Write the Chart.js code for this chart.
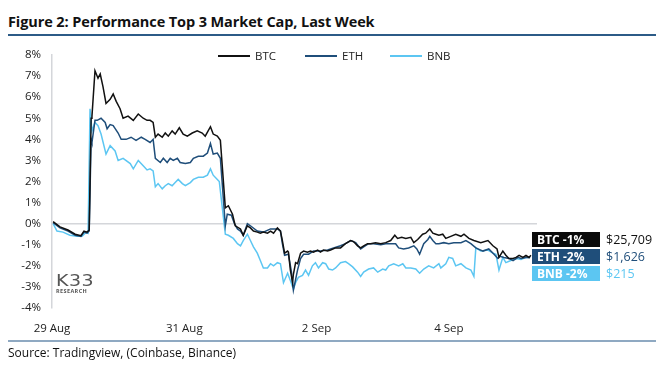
<!DOCTYPE html>
<html>
<head>
<meta charset="utf-8">
<script src="https://cdn.jsdelivr.net/npm/chart.js@4.4.0/dist/chart.umd.min.js"></script>
<style>
  body { margin: 0; background: #fff; font-family: 'Open Sans', sans-serif; }
  .page { position: relative; width: 664px; height: 369px; overflow: hidden; }
  .title { position: absolute; left: 8px; top: 12px; font-size: 14.5px; font-weight: 700; color: #111; letter-spacing: -0.1px; }
  .rule-top { position: absolute; left: 8px; top: 34px; width: 648px; height: 2px; background: #2c5b87; }
  .rule-bottom { position: absolute; left: 8px; top: 340px; width: 648px; height: 2px; background: #8fa9c2; }
  .source { position: absolute; left: 8px; top: 344px; font-size: 12px; color: #111; }
  .chart-box { position: absolute; left: 0; top: 0; width: 664px; height: 369px; }
  .logo { position: absolute; left: 56px; top: 273px; color: #555; line-height: 1; }
  .logo .k { font-size: 19px; letter-spacing: 0.5px; font-family: 'DejaVu Sans', sans-serif; font-weight: 400; transform: scaleY(0.8); transform-origin: top left; }
  .logo .r { font-size: 5.5px; letter-spacing: 0.4px; font-weight: 700; margin-top: -3px; }
  .tag { position: absolute; left: 532px; width: 68px; height: 15px; color: #fff; font-weight: 700; font-size: 12px; line-height: 15px; padding-left: 5px; box-sizing: border-box; }
  .price { position: absolute; left: 606px; font-size: 12.5px; line-height: 15px; }
</style>
</head>
<body>
<div class="page">
  <div class="title">Figure 2: Performance Top 3 Market Cap, Last Week</div>
  <div class="rule-top"></div>
  <div class="chart-box"><canvas id="chart" width="664" height="369"></canvas></div>
  <div class="logo"><div class="k">K33</div><div class="r">RESEARCH</div></div>
  <div id="tags"></div>
  <div class="rule-bottom"></div>
  <div class="source">Source: Tradingview, (Coinbase, Binance)</div>
</div>
<script>
const assets = ['BTC', 'ETH', 'BNB'];
const assetColors = ['#111111', '#1f4e7a', '#5cc6f2'];
const changeLabels = ['-1%', '-2%', '-2%'];
const prices = ['$25,709', '$1,626', '$215'];

const xTickHours = [0, 48, 96, 144];
const xTickLabels = ['29 Aug', '31 Aug', '2 Sep', '4 Sep'];

// hours since 29 Aug 00:00, % change over the week
const btcHours = [0.4, 2.9, 5.8, 8.4, 10.5, 11.6, 12.7, 13.5, 14.2, 14.5, 15.6, 16.7, 17.5, 18.5, 19.6, 21.1, 22.2, 23.3, 24.7, 25.8,
  27.6, 29.5, 31.3, 33.1, 34.5, 35.6, 36.7, 37.5, 38.5, 40.0, 41.1, 42.2, 43.6, 44.7, 46.2, 47.6, 49.1, 50.9, 52.7, 54.5,
  55.6, 57.5, 58.5, 60.0, 61.1, 62.9, 64.0, 65.5, 66.5, 68.4, 69.4, 70.9, 72.0, 73.1, 74.5, 75.6, 76.7, 78.2, 79.3, 80.4,
  81.8, 82.9, 83.6, 84.4, 85.5, 85.8, 86.5, 87.3, 87.6, 88.4, 89.1, 90.2, 91.3, 92.7, 93.8, 94.9, 96.4, 97.4, 98.5, 100.0,
  101.1, 102.9, 104.7, 106.5, 108.4, 109.4, 110.9, 112.0, 113.1, 114.5, 115.6, 117.4, 119.3, 121.1, 122.9, 124.4, 125.4, 126.9, 128.4, 130.2,
  131.3, 132.7, 134.5, 135.6, 137.1, 138.2, 139.3, 140.4, 141.8, 142.9, 144.7, 146.5, 148.4, 149.5, 151.3, 153.1, 155.6, 158.2, 160.0, 161.5,
  162.2, 163.6, 164.7, 165.8, 167.3, 168.4, 169.5, 170.9, 172.0, 173.1, 173.8];
const btcValues = [0.1, -0.15, -0.3, -0.5, -0.57, -0.35, -0.4, -0.3, 5.0, 5.1, 7.25, 6.9, 7.1, 6.5, 5.7, 5.9, 6.15, 5.8, 5.45, 5.0,
  5.1, 4.9, 5.2, 5.0, 4.9, 4.9, 4.8, 4.1, 4.25, 4.1, 4.3, 4.15, 4.4, 4.25, 4.55, 4.25, 4.15, 4.3, 4.4, 4.3,
  4.15, 4.6, 4.25, 4.15, 3.95, 0.75, 0.85, 0.45, -0.1, -0.25, -0.55, -0.1, -0.2, -0.35, -0.4, -0.45, -0.4, -0.45, -0.35, -0.45,
  -0.2, -0.35, -0.8, -1.4, -1.3, -1.35, -2.2, -2.8, -2.4, -1.85, -1.9, -1.4, -1.3, -1.35, -1.3, -1.35, -1.25, -1.35, -1.25, -1.3,
  -1.25, -1.15, -1.15, -0.95, -0.8, -0.85, -1.05, -1.15, -1.05, -0.95, -0.95, -0.9, -0.95, -0.9, -0.8, -0.55, -0.7, -0.65, -0.7, -0.65,
  -0.9, -0.75, -0.5, -0.45, -0.25, -0.45, -0.5, -0.55, -0.5, -0.7, -0.6, -0.5, -0.6, -0.5, -0.7, -0.8, -0.9, -0.8, -1.05, -1.2,
  -1.6, -1.3, -1.5, -1.65, -1.65, -1.6, -1.5, -1.6, -1.5, -1.6, -1.5];

const ethHours = [0.4, 2.9, 5.8, 8.4, 10.5, 11.6, 12.7, 13.5, 14.2, 14.5, 15.6, 16.4, 17.8, 19.3, 20.0, 21.1, 22.2, 24.0, 25.1, 26.9,
  28.7, 30.5, 32.4, 33.8, 35.6, 36.7, 37.5, 39.3, 40.4, 41.8, 42.9, 44.0, 45.5, 46.5, 48.4, 50.2, 51.3, 53.1, 54.9, 56.4,
  57.5, 58.5, 60.0, 61.1, 62.9, 63.6, 65.1, 66.2, 67.3, 68.4, 69.4, 70.9, 72.0, 74.5, 76.7, 79.3, 81.8, 82.9, 83.6, 84.4,
  85.8, 86.9, 87.6, 89.1, 90.2, 91.3, 93.1, 94.9, 97.4, 100.0, 102.2, 104.7, 106.5, 108.4, 110.2, 112.0, 113.1, 114.9, 116.7, 119.3,
  121.1, 122.9, 124.7, 125.8, 127.6, 129.4, 131.3, 132.4, 133.4, 134.9, 136.4, 137.1, 138.2, 139.3, 140.4, 142.2, 144.0, 145.8, 148.4, 150.2,
  152.0, 153.8, 156.4, 158.5, 160.4, 161.8, 162.5, 164.0, 165.8, 167.3, 169.1, 170.2, 172.0, 173.5];
const ethValues = [0.05, -0.2, -0.35, -0.55, -0.6, -0.4, -0.45, -0.35, 4.0, 3.85, 4.9, 4.9, 5.0, 4.8, 4.5, 4.7, 4.65, 4.3, 4.0, 4.0,
  4.1, 3.95, 4.1, 4.0, 3.85, 4.0, 3.1, 2.9, 3.1, 2.9, 3.1, 3.0, 3.1, 2.9, 2.85, 2.9, 3.1, 3.2, 3.2, 3.35,
  3.8, 3.3, 3.35, 3.1, -0.1, 0.45, 0.4, 0.0, -0.25, -0.35, -0.55, 0.0, -0.1, -0.35, -0.4, -0.25, -0.25, -0.35, -0.95, -1.5,
  -1.45, -2.3, -3.15, -2.2, -1.65, -1.45, -1.45, -1.3, -1.3, -1.25, -1.15, -1.05, -0.95, -0.8, -0.9, -1.2, -1.1, -0.95, -0.95, -1.0,
  -0.95, -0.95, -0.95, -1.15, -1.2, -1.15, -1.05, -1.2, -1.45, -0.95, -0.75, -0.6, -0.8, -0.95, -0.95, -0.9, -0.95, -0.9, -0.9, -0.8,
  -0.95, -1.15, -1.3, -1.2, -1.45, -1.65, -1.55, -1.6, -1.65, -1.75, -1.6, -1.65, -1.6, -1.6];

const bnbHours = [0.4, 1.8, 4.0, 6.5, 9.1, 10.9, 12.4, 13.1, 13.8, 14.5, 15.6, 16.7, 17.8, 19.6, 21.1, 22.9, 24.0, 25.8, 28.4, 29.5,
  31.3, 33.1, 34.5, 35.6, 36.7, 37.5, 38.5, 40.0, 41.1, 42.2, 43.6, 44.7, 45.8, 47.3, 48.4, 50.2, 51.3, 53.1, 54.9, 56.4,
  57.5, 58.5, 60.0, 60.7, 62.9, 64.0, 65.8, 67.3, 68.4, 69.4, 70.9, 72.0, 73.1, 74.5, 75.6, 76.7, 78.2, 79.3, 80.4, 81.8,
  82.9, 84.0, 85.5, 86.5, 87.6, 88.4, 89.4, 90.9, 92.0, 93.1, 94.5, 95.6, 96.7, 98.2, 99.3, 100.4, 101.8, 102.9, 104.7, 106.5,
  107.6, 109.1, 110.9, 112.0, 113.1, 114.9, 116.7, 118.2, 120.0, 121.1, 122.2, 124.0, 125.8, 127.3, 128.4, 130.2, 132.0, 133.4, 134.9, 136.7,
  138.5, 140.4, 141.1, 142.9, 144.0, 145.4, 146.5, 148.4, 150.2, 152.0, 153.1, 153.8, 155.6, 158.2, 160.0, 161.1, 162.2, 163.6, 164.7, 166.5,
  168.4, 170.2, 172.0, 173.5];
const bnbValues = [0.0, -0.35, -0.4, -0.55, -0.6, -0.6, -0.4, -0.45, 5.45, 4.4, 4.8, 4.65, 4.25, 3.3, 3.7, 3.45, 3.0, 3.1, 2.85, 2.6,
  3.0, 2.75, 2.55, 2.6, 2.5, 1.75, 1.9, 1.65, 1.8, 1.9, 1.8, 1.95, 2.1, 1.9, 1.8, 1.95, 2.1, 2.2, 2.2, 2.3,
  2.6, 2.3, 2.1, 2.0, -0.5, -0.55, -0.7, -0.95, -1.05, -0.8, -0.5, -0.8, -1.1, -1.4, -1.75, -2.1, -2.1, -1.9, -2.0, -1.85,
  -1.9, -2.8, -2.35, -2.7, -3.1, -2.8, -2.55, -2.45, -2.2, -2.45, -2.0, -1.85, -2.1, -1.85, -1.9, -2.15, -2.2, -2.1, -1.85, -1.8,
  -1.9, -2.05, -2.3, -2.5, -2.3, -2.15, -2.1, -2.3, -2.15, -2.2, -2.0, -1.9, -2.0, -1.9, -2.1, -2.1, -2.15, -2.35, -2.15, -2.0,
  -2.1, -1.9, -2.1, -1.9, -1.6, -1.65, -2.0, -1.9, -2.1, -2.2, -2.5, -1.15, -1.3, -1.25, -1.4, -1.45, -2.2, -1.6, -1.85, -1.75,
  -1.65, -1.7, -1.6, -1.6];

const seriesHours = [btcHours, ethHours, bnbHours];
const seriesValues = [btcValues, ethValues, bnbValues];

Chart.defaults.font.family = "'Open Sans', sans-serif";
Chart.defaults.font.size = 11.5;
Chart.defaults.color = '#222';

const insideLegend = {
  id: 'insideLegend',
  afterDraw(chart) {
    const ctx = chart.ctx;
    const startXs = [218, 305, 390];
    ctx.save();
    ctx.font = "11.5px 'Open Sans', sans-serif";
    ctx.textBaseline = 'middle';
    chart.data.datasets.forEach((ds, i) => {
      const x = startXs[i];
      const y = 56;
      ctx.strokeStyle = ds.borderColor;
      ctx.lineWidth = 2;
      ctx.beginPath();
      ctx.moveTo(x, y);
      ctx.lineTo(x + 32, y);
      ctx.stroke();
      ctx.fillStyle = '#222';
      ctx.fillText(ds.label, x + 37, y + 1);
    });
    ctx.restore();
  },
};

const ctx = document.querySelector('#chart').getContext('2d');
const myChart = new Chart(ctx, {
  type: 'line',
  data: {
    datasets: assets.map((name, i) => ({
      label: name,
      data: seriesHours[i].map((h, j) => ({ x: h, y: seriesValues[i][j] })),
      borderColor: assetColors[i],
      borderWidth: 1.5,
      pointRadius: 0,
      tension: 0,
    })),
  },
  options: {
    responsive: false,
    animation: false,
    layout: { padding: { left: 0, top: 55, right: 127, bottom: 31 } },
    plugins: { legend: { display: false }, tooltip: { enabled: false } },
    scales: {
      x: {
        type: 'linear',
        min: 0,
        max: 176,
        afterBuildTicks: (scale) => {
          scale.ticks = xTickHours.map((v) => ({ value: v }));
        },
        afterFit: (scale) => {
          scale.height = 30;
        },
        ticks: {
          padding: 14,
          maxRotation: 0,
          callback: (value) => xTickLabels[xTickHours.indexOf(value)],
        },
        grid: { display: false, drawTicks: false },
        border: { display: false },
      },
      y: {
        min: -4,
        max: 8,
        afterFit: (scale) => {
          scale.width = 52;
        },
        ticks: {
          stepSize: 1,
          padding: 11,
          callback: (value) => value + '%',
        },
        grid: {
          drawTicks: false,
          color: (c) => (c.tick && c.tick.value === 0 ? '#d4d6da' : 'rgba(0,0,0,0)'),
          lineWidth: 1.5,
        },
        border: { display: true, color: '#d4d6da', width: 1.5 },
      },
    },
  },
  plugins: [insideLegend],
});

const tagBox = document.querySelector('#tags');
const tagTops = [232, 249, 266];
assets.forEach((name, i) => {
  const tag = document.createElement('div');
  tag.className = 'tag';
  tag.style.top = tagTops[i] + 'px';
  tag.style.background = i === 0 ? '#0a0a0a' : assetColors[i];
  tag.textContent = `${name} ${changeLabels[i]}`;
  tagBox.appendChild(tag);
  const price = document.createElement('div');
  price.className = 'price';
  price.style.top = tagTops[i] + 'px';
  price.style.color = assetColors[i];
  price.textContent = prices[i];
  tagBox.appendChild(price);
});
</script>
</body>
</html>
